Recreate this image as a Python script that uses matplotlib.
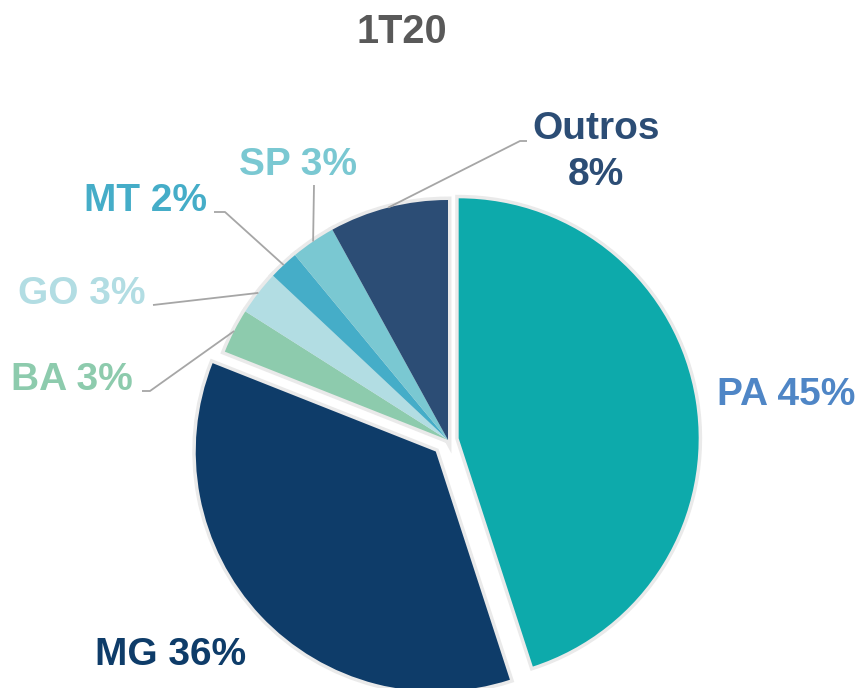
import numpy as np
import matplotlib
matplotlib.use("Agg")
import matplotlib.pyplot as plt

# ---- data ----
title = "1T20"
states = ["PA", "MG", "BA", "GO", "MT", "SP", "Outros"]
shares = [45, 36, 3, 3, 2, 3, 8]
label_texts = ["PA 45%", "MG 36%", "BA 3%", "GO 3%", "MT 2%", "SP 3%", "Outros\n8%"]

# ---- style ----
wedge_colors = ["#0DAAAB", "#0E3C69", "#8DCBAD", "#B2DDE3", "#45ADC8", "#7AC8D2", "#2C4D75"]
text_colors = ["#4F86C6", "#0E3C69", "#8DCBAD", "#B2DDE3", "#45ADC8", "#7AC8D2", "#2C4D75"]
explode_frac = [0.045, 0.07, 0, 0, 0, 0, 0]
W, H = 861, 688
center_px = (448, 440)
radius_px = 240
# label baseline positions (pixels, y from top) and leader routes
label_pos = [(786, 405), (171, 665), (72, 390), (82, 304), (145, 211), (298, 175), (596, 185)]
leader_mid = [None, None, (150, 391), None, (225, 212), None, (520, 141)]
leader_end = [None, None, (142, 391), (153, 305), (214, 212), (314, 185), (527, 141)]

plt.rcParams['font.family'] = ['Liberation Sans', 'DejaVu Sans']

fig = plt.figure(figsize=(W / 100, H / 100), dpi=100)
ax = fig.add_axes([0, 0, 1, 1])

cx, cy = center_px[0], H - center_px[1]
explode = [e * radius_px for e in explode_frac]  # pie explode is in data units

# soft halo behind the pie
halo, _ = ax.pie(shares, explode=explode, startangle=90, counterclock=False,
                 center=(cx, cy), radius=radius_px, colors=["#E4E4E4"] * len(shares),
                 wedgeprops=dict(linewidth=5, edgecolor="#EAEAEA"), frame=True)
for w in halo:
    w.set_zorder(1)

wedges, _ = ax.pie(shares, explode=explode, startangle=90, counterclock=False,
                   center=(cx, cy), radius=radius_px, colors=wedge_colors,
                   wedgeprops=dict(linewidth=0), frame=True)
for w in wedges:
    w.set_zorder(2)

ax.set_xlim(0, W)
ax.set_ylim(0, H)
ax.set_aspect('equal')
ax.axis('off')

# title
ax.text(402, H - 43, title, ha='center', va='baseline', fontsize=28.5,
        fontweight='bold', color="#595959")

# labels and leader lines
for i, w in enumerate(wedges):
    ang = np.deg2rad((w.theta1 + w.theta2) / 2)
    wx, wy = w.center
    px = wx + w.r * np.cos(ang)
    py = wy + w.r * np.sin(ang)
    if leader_end[i] is not None:
        xs, ys = [px], [py]
        if leader_mid[i] is not None:
            xs.append(leader_mid[i][0]); ys.append(H - leader_mid[i][1])
        xs.append(leader_end[i][0]); ys.append(H - leader_end[i][1])
        ax.plot(xs, ys, color="#A6A6A6", lw=1.3, zorder=3, solid_capstyle='butt')
    lx, ly = label_pos[i]
    ax.text(lx, H - ly, label_texts[i], ha='center', va='baseline', fontsize=28,
            fontweight='bold', color=text_colors[i], linespacing=1.35,
            multialignment='center', zorder=4)

fig.savefig("out.png", dpi=100)
